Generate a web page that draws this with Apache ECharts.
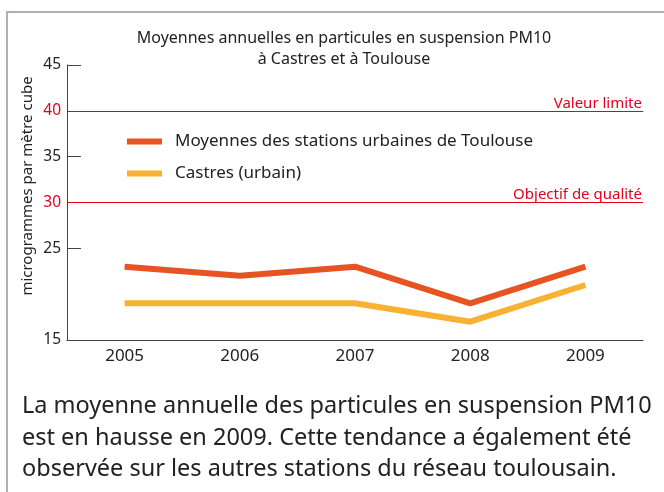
<!DOCTYPE html>
<html>
<head>
<meta charset="utf-8">
<script src="https://cdn.jsdelivr.net/npm/echarts@6/dist/echarts.min.js"></script>
<style>
  html, body { margin: 0; padding: 0; background: #fff; }
  #container1 { width: 664px; height: 492px; }
</style>
</head>
<body>
<div id="container1"></div>
<script>
// données (µg/m3)
var annees = ['2005', '2006', '2007', '2008', '2009'];
var toulouse = [23, 22, 23, 19, 23];
var castres = [19, 19, 19, 17, 21];
var etiquettesY = [15, 25, 30, 35, 40, 45];
var graduationsY = [25, 35, 45];
var seuils = [
    { nom: 'Valeur limite', valeur: 40 },
    { nom: 'Objectif de qualité', valeur: 30 }
];

var police = '"Noto Sans", sans-serif';
var myChart = echarts.init(document.getElementById('container1'));

var option = {
    animation: false,
    backgroundColor: '#fff',
    color: ['#e65424', '#f8b133'],
    title: {
        text: 'Moyennes annuelles en particules en suspension PM10\nà Castres et à Toulouse',
        left: 339,
        top: 23,
        textAlign: 'center',
        textStyle: { fontFamily: police, fontSize: 16, fontWeight: 'normal', color: '#222', lineHeight: 21 }
    },
    legend: {
        orient: 'vertical',
        left: 127,
        top: 133,
        padding: 0,
        itemWidth: 35,
        itemHeight: 6,
        itemGap: 15,
        icon: 'rect',
        textStyle: { fontFamily: police, fontSize: 17, color: '#222', padding: [0, 0, 0, 8] },
        data: ['Moyennes des stations urbaines de Toulouse', 'Castres (urbain)']
    },
    grid: { left: 67, right: 21, top: 65, bottom: 152, containLabel: false },
    xAxis: {
        type: 'category',
        data: annees,
        boundaryGap: true,
        axisLine: { lineStyle: { color: '#444', width: 1 } },
        axisTick: { inside: true, length: 5, lineStyle: { color: '#444' } },
        axisLabel: { fontFamily: police, fontSize: 17, color: '#222', margin: 8 }
    },
    yAxis: {
        type: 'value',
        min: 15,
        max: 45,
        interval: 5,
        splitLine: { show: false },
        axisLine: { show: true, lineStyle: { color: '#444', width: 1 } },
        axisTick: { show: true, inside: true, length: 14, customValues: graduationsY, lineStyle: { color: '#444' } },
        axisLabel: {
            fontFamily: police, fontSize: 15.5, margin: 6,
            customValues: etiquettesY,
            color: function (v) { return (v == 30 || v == 40) ? '#e3001b' : '#222'; }
        }
    },
    graphic: [
        {
            type: 'polyline',
            shape: { points: [[7, 492], [7, 12], [664, 12]] },
            style: { stroke: '#a9b2b2', lineWidth: 2, fill: null }
        },
        {
            type: 'text',
            x: 28, y: 186,
            rotation: Math.PI / 2,
            style: {
                text: 'microgrammes par mètre cube',
                fontFamily: police, fontSize: 15, fill: '#222',
                align: 'center', verticalAlign: 'middle'
            }
        },
        {
            type: 'text',
            left: 22, top: 391,
            style: {
                text: 'La moyenne annuelle des particules en suspension PM10\nest en hausse en 2009. Cette tendance a également été\nobservée sur les autres stations du réseau toulousain.',
                fontFamily: police, fontSize: 23.5, fill: '#222', lineHeight: 31.5
            }
        }
    ],
    series: [
        {
            name: 'Moyennes des stations urbaines de Toulouse',
            type: 'line',
            data: toulouse,
            symbol: 'none',
            lineStyle: { width: 6 },
            markLine: {
                silent: true,
                symbol: 'none',
                lineStyle: { color: '#e3001b', width: 1, type: 'solid' },
                label: {
                    position: 'insideEndTop',
                    formatter: '{b}',
                    fontFamily: police, fontSize: 15, color: '#e3001b',
                    distance: [1, 0]
                },
                data: seuils.map(function (s) { return { name: s.nom, yAxis: s.valeur }; })
            }
        },
        {
            name: 'Castres (urbain)',
            type: 'line',
            data: castres,
            symbol: 'none',
            lineStyle: { width: 6 }
        }
    ]
};

myChart.setOption(option, true);
</script>
</body>
</html>
